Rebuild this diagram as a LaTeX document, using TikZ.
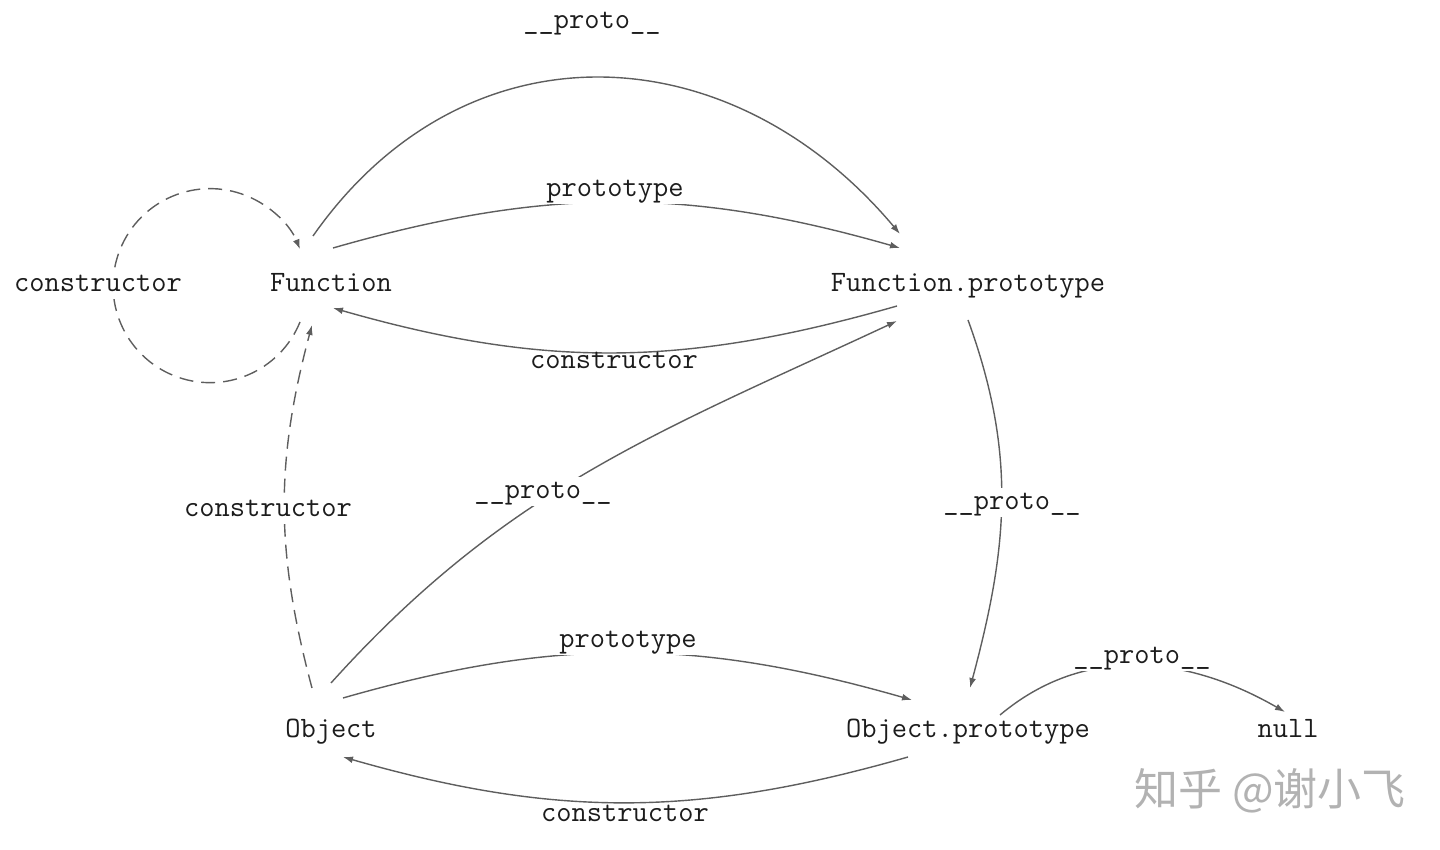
\documentclass[tikz,border=0pt]{standalone}
\usepackage{fontspec}
\newfontfamily\cjkfont{Noto Sans CJK SC}
\usetikzlibrary{arrows.meta}
\definecolor{cEdge}{HTML}{5E5E5E}
\definecolor{cInk}{HTML}{1C1C1C}
\definecolor{cMark}{HTML}{B2B2B2}
\tikzset{
  obj/.style={font=\fontsize{14.8}{16}\selectfont\ttfamily,text=cInk,inner sep=0pt,text height=9pt,text depth=2.5pt},
  olbl/.style={obj,fill=white,inner sep=1.5pt},
  slbl/.style={obj,inner sep=1.5pt},
  link/.style={-{Latex[length=5pt,width=3.4pt]},line width=0.7pt,draw=cEdge},
  dlink/.style={link,dash pattern=on 7pt off 4pt},
}
\begin{document}
\begin{tikzpicture}[x=0.5pt,y=0.5pt]
  \useasboundingbox (0,0) rectangle (1440,850);
  % objects
  \node[obj] (fn) at (331,565) {Function};
  \node[obj] (fp) at (968,565) {Function.prototype};
  \node[obj] (ob) at (331,119) {Object};
  \node[obj] (op) at (968,119) {Object.prototype};
  \node[obj] (nl) at (1288,119) {null};
  % Function <-> Function.prototype
  \draw[link] ([shift={(-18,49)}]fn.center) to[out=55,in=130,looseness=1.15] ([shift={(-68,51)}]fp.center);
  \draw[link] ([shift={(2,37)}]fn.center) to[out=16,in=164] ([shift={(-68,37)}]fp.center);
  \draw[link] ([shift={(-71,-21)}]fp.center) to[out=196,in=-16] ([shift={(2,-23)}]fn.center);
  % Function.constructor loop
  \draw[dlink] ([shift={(-31,-37)}]fn.center) arc[start angle=-22,end angle=-338,radius=97];
  % Object -> Function, Function.prototype
  \draw[dlink] ([shift={(-19,43)}]ob.center) to[out=105,in=-105] ([shift={(-19,-40)}]fn.center);
  \draw[link] ([shift={(0,48)}]ob.center) to[out=48,in=205] ([shift={(-71,-36)}]fp.center);
  % Function.prototype -> Object.prototype
  \draw[link] ([shift={(0,-35)}]fp.center) to[out=-70,in=75] ([shift={(2,43)}]op.center);
  % Object <-> Object.prototype
  \draw[link] ([shift={(12,33)}]ob.center) to[out=16,in=164] ([shift={(-56,31)}]op.center);
  \draw[link] ([shift={(-60,-26)}]op.center) to[out=196,in=-16] ([shift={(12,-26)}]ob.center);
  % Object.prototype -> null
  \draw[link] ([shift={(32,16)}]op.center) to[out=40,in=150] ([shift={(-3,19)}]nl.center);
  % labels
  \node[slbl] (l1) at (592,828) {\_\_proto\_\_};
  \node[olbl] (l2) at (615,660) {prototype};
  \node[slbl] (l3) at (614,488) {constructor};
  \node[olbl] (l4) at (98,565) {constructor};
  \node[olbl] (l5) at (268,340) {constructor};
  \node[olbl] (l6) at (543,358) {\_\_proto\_\_};
  \node[olbl] (l7) at (1012,347) {\_\_proto\_\_};
  \node[olbl] (l8) at (628,209) {prototype};
  \node[slbl] (l9) at (625,35) {constructor};
  \node[olbl] (l10) at (1142,193) {\_\_proto\_\_};
  % watermark
  \node[font=\cjkfont\fontsize{22}{24}\selectfont,text=cMark,inner sep=0pt] (wm) at (1270,59) {知乎 @谢小飞};
\end{tikzpicture}
\end{document}
